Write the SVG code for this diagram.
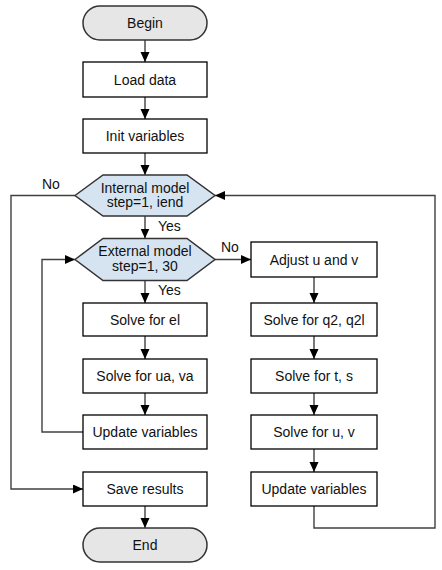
<svg xmlns="http://www.w3.org/2000/svg" width="442" height="570" viewBox="0 0 442 570">
<style>
.box{fill:#fff;stroke:#000;stroke-width:1.3}
.term{fill:#e6e6e6;stroke:#333;stroke-width:1.5}
.dec{fill:#d6e4f1;stroke:#333;stroke-width:1.5}
.t{font-family:"Liberation Sans",Arial,sans-serif;font-size:14px;fill:#111;text-anchor:middle}
.lbl{font-family:"Liberation Sans",Arial,sans-serif;font-size:14px;fill:#111}
.c{fill:none;stroke:#404040;stroke-width:1.4}
</style>
<defs>
<marker id="ah" markerUnits="userSpaceOnUse" markerWidth="11" markerHeight="10" refX="10" refY="4.5" orient="auto">
<path d="M0,0 L10,4.5 L0,9 z" fill="#000"/>
</marker>
</defs>
<rect width="442" height="570" fill="#fff"/>
<g id="connectors">
<path class="c" d="M145,40 V62" marker-end="url(#ah)"/>
<path class="c" d="M145,97 V119" marker-end="url(#ah)"/>
<path class="c" d="M145,153 V175" marker-end="url(#ah)"/>
<path class="c" d="M145,216 V238.5" marker-end="url(#ah)"/>
<path class="c" d="M145,280.5 V303" marker-end="url(#ah)"/>
<path class="c" d="M145,336 V359" marker-end="url(#ah)"/>
<path class="c" d="M145,393 V415" marker-end="url(#ah)"/>
<path class="c" d="M145,506 V528" marker-end="url(#ah)"/>
<path class="c" d="M314,277 V303" marker-end="url(#ah)"/>
<path class="c" d="M314,336 V359" marker-end="url(#ah)"/>
<path class="c" d="M314,393 V415" marker-end="url(#ah)"/>
<path class="c" d="M314,449 V472" marker-end="url(#ah)"/>
<path class="c" d="M75,195.5 H11 V489 H83" marker-end="url(#ah)"/>
<path class="c" d="M83,432 H42 V259.5 H75" marker-end="url(#ah)"/>
<path class="c" d="M215,259.5 H251" marker-end="url(#ah)"/>
<path class="c" d="M314,506 V528 H435 V195.5 H215" marker-end="url(#ah)"/>
<text class="lbl" x="42" y="189">No</text>
<text class="lbl" x="158" y="231">Yes</text>
<text class="lbl" x="158" y="295">Yes</text>
<text class="lbl" x="221" y="252">No</text>
</g>
<g id="begin"><rect class="term" x="83" y="6" width="124" height="34" rx="17"/><text class="t" x="145" y="28">Begin</text></g>
<g id="load"><rect class="box" x="83" y="62" width="124" height="35"/><text class="t" x="145" y="85">Load data</text></g>
<g id="init"><rect class="box" x="83" y="119" width="124" height="34"/><text class="t" x="145" y="141">Init variables</text></g>
<g id="internal"><polygon class="dec" points="75,195.5 103,175 187,175 215,195.5 187,216 103,216"/><text class="t" x="145" y="192.5">Internal model</text><text class="t" x="145" y="207">step=1, iend</text></g>
<g id="external"><polygon class="dec" points="75,259.5 103,238.5 187,238.5 215,259.5 187,280.5 103,280.5"/><text class="t" x="145" y="256">External model</text><text class="t" x="145" y="270.5">step=1, 30</text></g>
<g id="solve-el"><rect class="box" x="83" y="303" width="124" height="33"/><text class="t" x="145" y="324.5">Solve for el</text></g>
<g id="solve-uava"><rect class="box" x="83" y="359" width="124" height="34"/><text class="t" x="145" y="381">Solve for ua, va</text></g>
<g id="update-left"><rect class="box" x="83" y="415" width="124" height="34"/><text class="t" x="145" y="437">Update variables</text></g>
<g id="save"><rect class="box" x="83" y="472" width="124" height="34"/><text class="t" x="145" y="494">Save results</text></g>
<g id="end"><rect class="term" x="83" y="528" width="124" height="34" rx="17"/><text class="t" x="145" y="550">End</text></g>
<g id="adjust"><rect class="box" x="251" y="242" width="126" height="35"/><text class="t" x="314" y="265">Adjust u and v</text></g>
<g id="solve-q2"><rect class="box" x="251" y="303" width="126" height="33"/><text class="t" x="314" y="324.5">Solve for q2, q2l</text></g>
<g id="solve-ts"><rect class="box" x="251" y="359" width="126" height="34"/><text class="t" x="314" y="381">Solve for t, s</text></g>
<g id="solve-uv"><rect class="box" x="251" y="415" width="126" height="34"/><text class="t" x="314" y="437">Solve for u, v</text></g>
<g id="update-right"><rect class="box" x="251" y="472" width="126" height="34"/><text class="t" x="314" y="494">Update variables</text></g>
</svg>
